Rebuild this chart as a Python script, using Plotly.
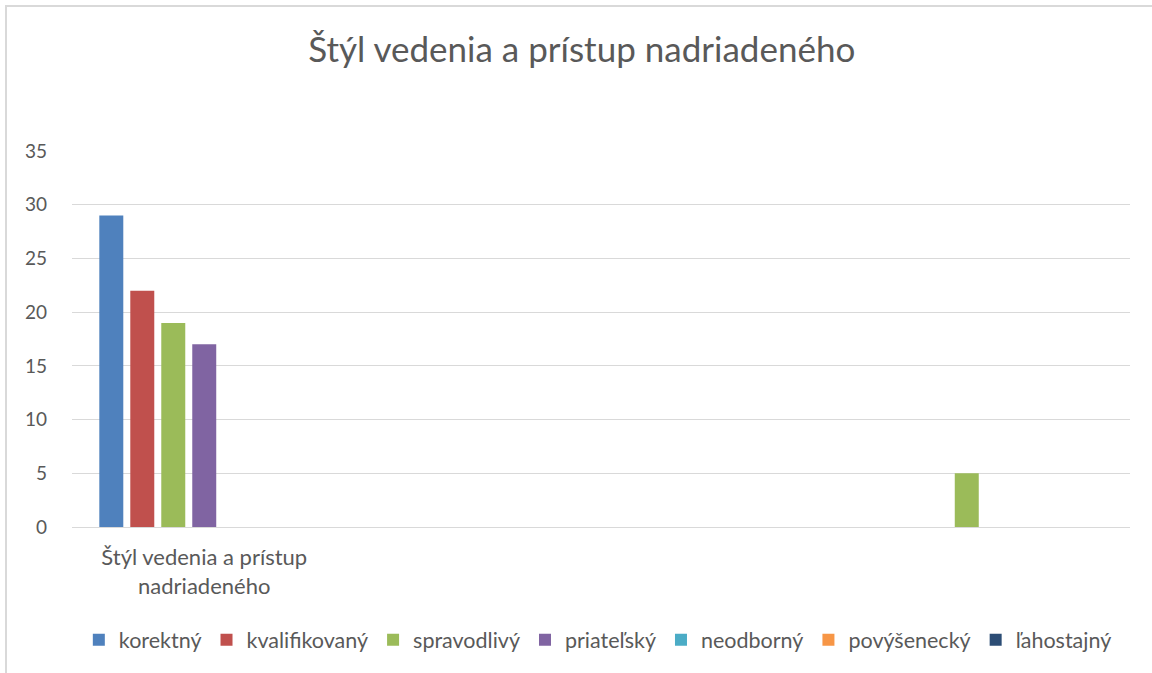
import plotly.graph_objects as go

categories = ["Štýl vedenia a prístup<br>nadriadeného", "", "", ""]
cat_pos = [0, 1, 2, 3]
series_names = ["korektný", "kvalifikovaný", "spravodlivý", "priateľský",
                "neodborný", "povýšenecký", "ľahostajný"]
korektny = [29, 0, 0, 0]
kvalifikovany = [22, 0, 0, 0]
spravodlivy = [19, 0, 0, 5]
priatelsky = [17, 0, 0, 0]
neodborny = [0, 0, 0, 0]
povysenecky = [0, 0, 0, 0]
lahostajny = [0, 0, 0, 0]
colors = ["#4F81BD", "#C0504D", "#9BBB59", "#8064A2", "#4BACC6", "#F79646", "#2C4D75"]
y_ticks = [0, 5, 10, 15, 20, 25, 30, 35]

values = [korektny, kvalifikovany, spravodlivy, priatelsky, neodborny, povysenecky, lahostajny]

FONT = "Lato"
TXT = "#595959"

fig = go.Figure()
for name, vals, col in zip(series_names, values, colors):
    fig.add_trace(go.Bar(x=cat_pos, y=vals, name=name, marker=dict(color=col, line=dict(width=0))))

fig.update_layout(
    width=1152, height=673,
    paper_bgcolor="white", plot_bgcolor="white",
    margin=dict(l=72, r=22, t=151, b=146),
    barmode="group", bargap=0.18, bargroupgap=0.226,
    title=dict(text="Štýl vedenia a prístup nadriadeného", x=0.505, xanchor="center",
               y=1 - 50 / 673, yanchor="middle",
               font=dict(family=FONT, size=35, color=TXT)),
    font=dict(family=FONT, color=TXT),
    showlegend=True,
    legend=dict(orientation="h", x=0.497, xanchor="center", y=-0.30, yanchor="middle",
                font=dict(family=FONT, size=21.5, color=TXT), traceorder="normal",
                itemwidth=30),
    xaxis=dict(range=[-0.5, 3.5], tickmode="array", tickvals=cat_pos, ticktext=categories,
               showgrid=False, zeroline=False, showline=False, ticks="",
               ticklabelstandoff=15,
               tickfont=dict(family=FONT, size=22, color=TXT)),
    yaxis=dict(range=[0, 35], tickmode="array", tickvals=y_ticks,
               showgrid=True, gridcolor="#D9D9D9", gridwidth=1,
               zeroline=True, zerolinecolor="#D9D9D9", zerolinewidth=1,
               showline=False, ticks="", ticklabelstandoff=24,
               tickfont=dict(family=FONT, size=19, color=TXT)),
    shapes=[dict(type="path", xref="paper", yref="paper",
                 path="M -0.0624,-0.4 L -0.0624,1.3856 L 1.05,1.3856",
                 line=dict(color="#D9D9D9", width=2))],
)
fig.write_html("out.html", config={"displayModeBar": False},
               post_script="document.body.style.margin='0px';document.body.style.padding='0px';")
